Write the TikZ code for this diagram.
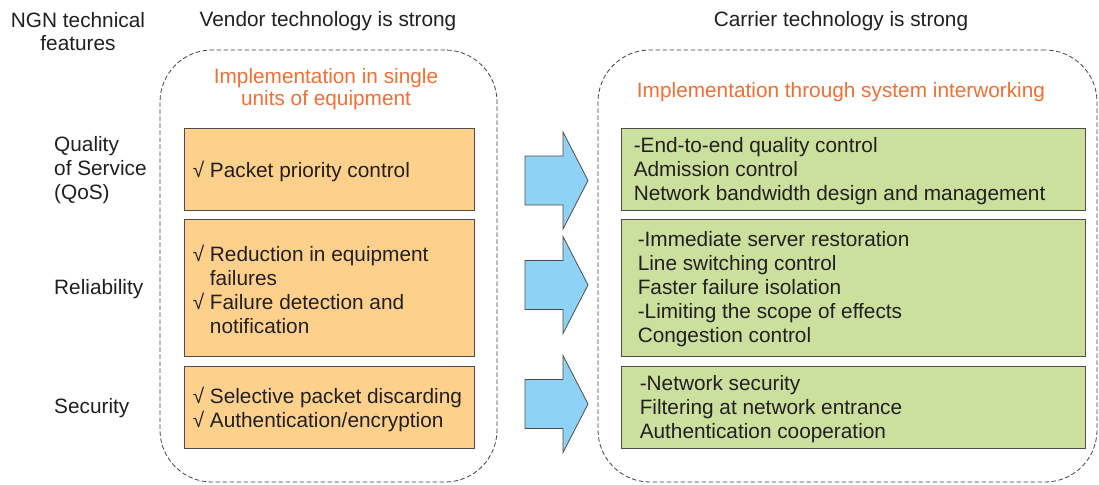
\documentclass[tikz,border=0pt]{standalone}
\usepackage{fontspec}
\setmainfont{Liberation Sans}
\usepackage{tikz}
\usetikzlibrary{positioning}
\definecolor{ink}{RGB}{35,31,32}
\definecolor{vendfill}{RGB}{253,209,140}
\definecolor{carrfill}{RGB}{202,224,156}
\definecolor{arrfill}{RGB}{142,211,245}
\definecolor{headorange}{RGB}{242,110,50}
\tikzset{
  grp/.style    ={draw=ink!85,dashed,dash pattern=on 4.5pt off 2.5pt,line width=0.8pt,rounded corners=52pt,inner sep=0pt},
  vbox/.style   ={draw=ink!80,fill=vendfill,line width=0.9pt,inner sep=0pt,minimum width=290pt},
  cbox/.style   ={draw=ink!80,fill=carrfill,line width=0.9pt,inner sep=0pt,minimum width=464pt},
  txt/.style    ={align=left,inner sep=0pt,text=ink},
  ttl/.style    ={align=center,inner sep=0pt,text=headorange},
  fatarrow/.style={draw=ink!80,fill=arrfill,line width=0.8pt,line join=miter},
}
\newcommand{\chk}{\char"221A\ }
\newcommand{\hang}{\phantom{\char"221A\ }}

\begin{document}
\begin{tikzpicture}[x=1pt,y=-1pt,font=\fontsize{20.8pt}{24pt}\selectfont]
  \useasboundingbox (0,0) rectangle (1099,484);
  % column headings
  \node[txt,align=center,text=ink,font=\fontsize{20.8pt}{23pt}\selectfont] (feat) at (78,32) {NGN technical\\features};
  \node[txt] (vhead) at (328,21) {Vendor technology is strong};
  \node[txt] (chead) at (841,21) {Carrier technology is strong};
  % dashed groups
  \node[grp,minimum width=337pt,minimum height=432pt] (vend) at (328.5,266) {};
  \node[grp,minimum width=499pt,minimum height=432pt] (carr) at (847.5,266) {};
  \node[ttl,font=\fontsize{20.8pt}{22pt}\selectfont] (vttl) at (326,89) {Implementation in single\\units of equipment};
  \node[ttl] (cttl) at (841,92) {Implementation through system interworking};
  % feature labels
  \node[txt,anchor=west] (qos) at (54,170) {Quality\\of Service\\(QoS)};
  \node[txt,anchor=west] (rel) at (54,289) {Reliability};
  \node[txt,anchor=west] (sec) at (54,408) {Security};
  % vendor side
  \node[vbox,minimum height=82pt]  (v1) at (329,169) {};
  \node[vbox,minimum height=137pt] (v2) at (329,287.5) {};
  \node[vbox,minimum height=82pt]  (v3) at (329,407) {};
  \node[txt,anchor=west] at ([xshift=9pt,yshift=-2pt]v1.west) {\chk Packet priority control};
  \node[txt,anchor=west] at ([xshift=9pt,yshift=-2pt]v2.west)
    {\chk Reduction in equipment\\\hang failures\\\chk Failure detection and\\\hang notification};
  \node[txt,anchor=west] at ([xshift=9pt,yshift=-2pt]v3.west)
    {\chk Selective packet discarding\\\chk Authentication/encryption};
  % carrier side
  \node[cbox,minimum height=82pt]  (c1) at (853,169) {};
  \node[cbox,minimum height=137pt] (c2) at (853,287.5) {};
  \node[cbox,minimum height=82pt]  (c3) at (853,407) {};
  \node[txt,anchor=west] at ([xshift=13pt,yshift=-2pt]c1.west)
    {-End-to-end quality control\\Admission control\\Network bandwidth design and management};
  \node[txt,anchor=west] at ([xshift=17pt,yshift=-2pt]c2.west)
    {-Immediate server restoration\\Line switching control\\Faster failure isolation\\-Limiting the scope of effects\\Congestion control};
  \node[txt,anchor=west] at ([xshift=19pt,yshift=-2pt]c3.west)
    {-Network security\\Filtering at network entrance\\Authentication cooperation};
  % block arrows between the columns
  \foreach \y in {180.5,285,404}
    \draw[fatarrow,shift={(0,\y)}] (525,-24.5) -- (563,-24.5) -- (563,-48.5) -- (588,0)
      -- (563,48.5) -- (563,24.5) -- (525,24.5) -- cycle;
\end{tikzpicture}
\end{document}
